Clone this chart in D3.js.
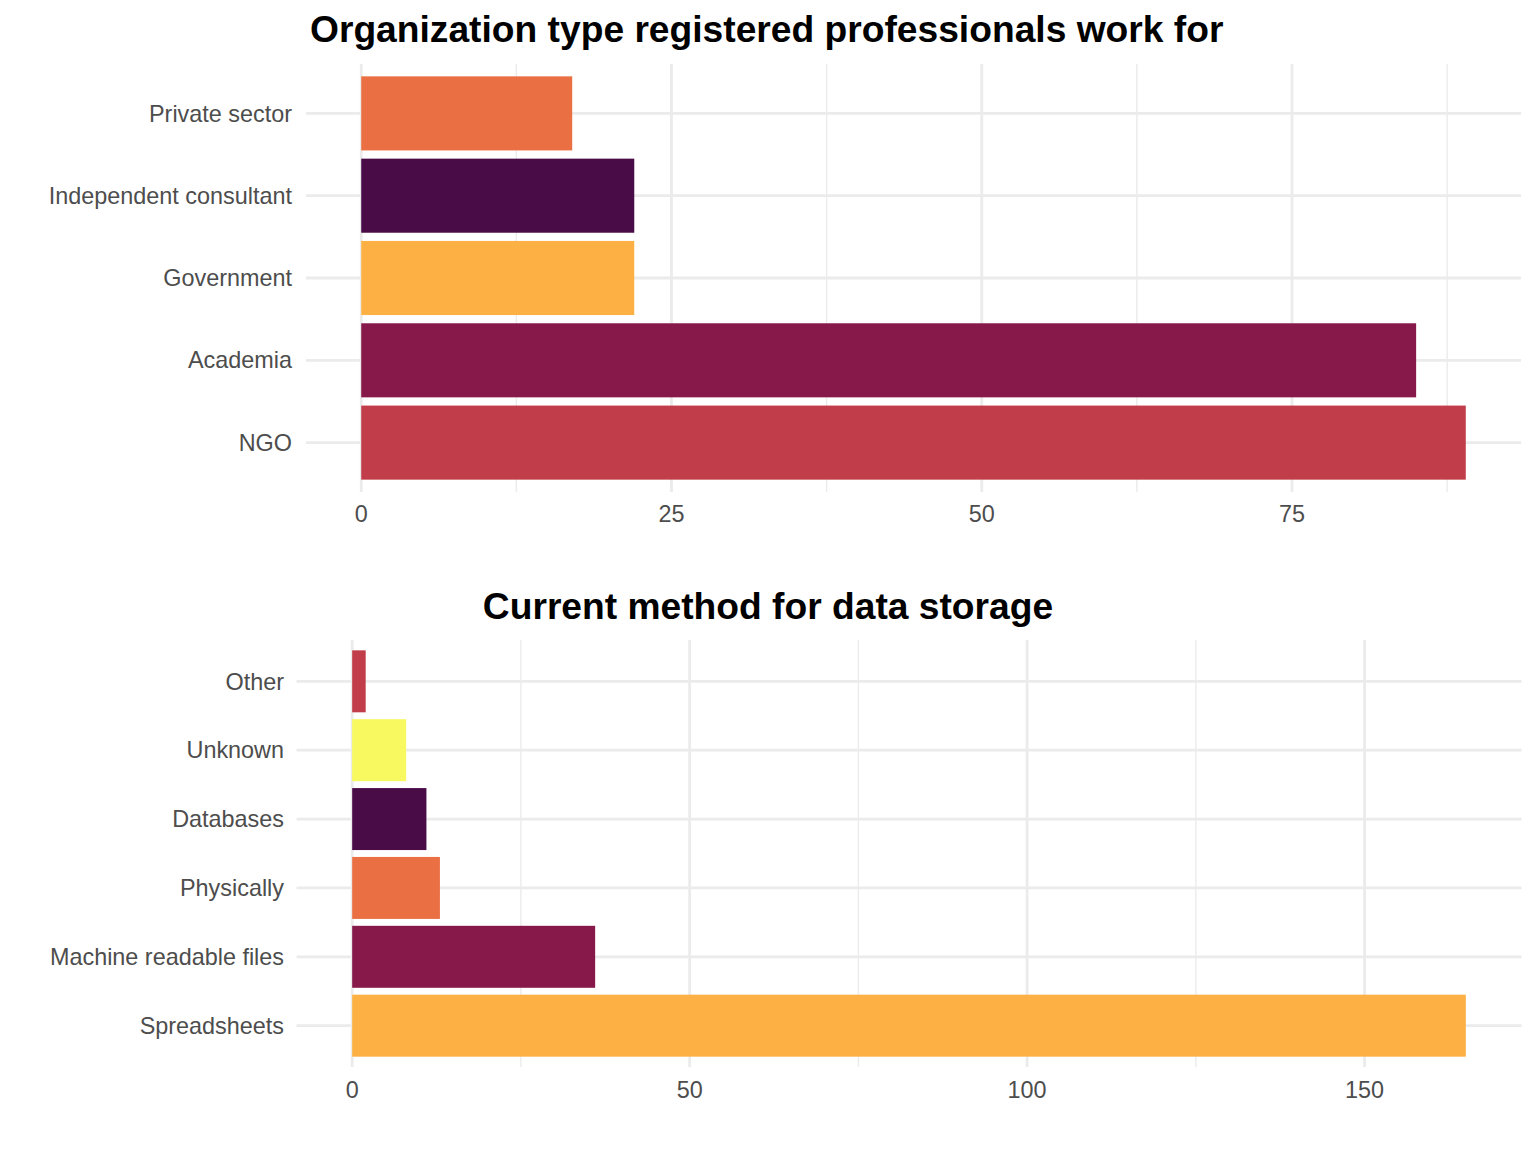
<!DOCTYPE html>
<html><head><meta charset="utf-8">
<script src="https://cdn.jsdelivr.net/npm/d3@7"></script>
<style>body{margin:0;background:#fff}svg{display:block;font-family:"Liberation Sans",Arial,sans-serif}</style>
</head><body>
<svg id="c" width="1536" height="1152"></svg>
<script>
// ---- data ----
const orgCategories = ["Private sector","Independent consultant","Government","Academia","NGO"];
const orgValues = [17, 22, 22, 85, 89];
const orgColors = ["#EA7044","#4A0C47","#FDB144","#87194A","#C03D49"];
const orgTicks = [0, 25, 50, 75];
const orgMinorTicks = [12.5, 37.5, 62.5, 87.5];

const storCategories = ["Other","Unknown","Databases","Physically","Machine readable files","Spreadsheets"];
const storValues = [2, 8, 11, 13, 36, 165];
const storColors = ["#C03D49","#F8F860","#4A0C47","#EA7044","#87194A","#FDB144"];
const storTicks = [0, 50, 100, 150];
const storMinorTicks = [25, 75, 125];

const titles = ["Organization type registered professionals work for","Current method for data storage"];

const svg = d3.select("#c");
const grid = "#EBEBEB", txt = "#4D4D4D";

function panel(cfg){
  const maxV = d3.max(cfg.values);
  const pad = maxV*0.05;
  const x = d3.scaleLinear().domain([-pad, maxV+pad]).range([cfg.left, cfg.right]);
  const y = d3.scaleBand().domain(cfg.cats).range([cfg.top, cfg.bottom]).paddingInner(0.1).paddingOuter(0.15);
  const g = svg.append("g");
  g.selectAll(".mn").data(cfg.minor).enter().append("line")
    .attr("x1",d=>x(d)).attr("x2",d=>x(d)).attr("y1",cfg.top).attr("y2",cfg.bottom)
    .attr("stroke",grid).attr("stroke-width",1.4);
  g.selectAll(".mj").data(cfg.ticks).enter().append("line")
    .attr("x1",d=>x(d)).attr("x2",d=>x(d)).attr("y1",cfg.top).attr("y2",cfg.bottom)
    .attr("stroke",grid).attr("stroke-width",2.8);
  g.selectAll(".hg").data(cfg.cats).enter().append("line")
    .attr("x1",cfg.left).attr("x2",cfg.right)
    .attr("y1",d=>y(d)+y.bandwidth()/2).attr("y2",d=>y(d)+y.bandwidth()/2)
    .attr("stroke",grid).attr("stroke-width",2.8);
  g.selectAll(".bar").data(cfg.cats).enter().append("rect")
    .attr("x",x(0)).attr("y",d=>y(d))
    .attr("width",(d,i)=>x(cfg.values[i])-x(0)).attr("height",y.bandwidth())
    .attr("fill",(d,i)=>cfg.colors[i]);
  g.selectAll(".yl").data(cfg.cats).enter().append("text")
    .attr("x",cfg.left-cfg.labGap).attr("y",d=>y(d)+y.bandwidth()/2).attr("dy","0.35em")
    .attr("text-anchor","end").attr("font-size",cfg.fs).attr("fill",txt).text(d=>d);
  g.selectAll(".xl").data(cfg.ticks).enter().append("text")
    .attr("x",d=>x(d)).attr("y",cfg.tickY).attr("text-anchor","middle")
    .attr("font-size",cfg.fs).attr("fill",txt).text(d=>d);
  g.append("text").attr("x",cfg.titleX).attr("y",cfg.titleY).attr("text-anchor",cfg.titleAnchor)
    .attr("font-size",cfg.tfs).attr("font-weight","bold").attr("fill","#000").text(cfg.title);
}

panel({cats:orgCategories, values:orgValues, colors:orgColors, ticks:orgTicks, minor:orgMinorTicks,
  left:306, right:1521, top:64, bottom:492, tickY:522, fs:23.4, tfs:37.2, labGap:14,
  title:titles[0], titleX:310, titleY:42, titleAnchor:"start"});
panel({cats:storCategories, values:storValues, colors:storColors, ticks:storTicks, minor:storMinorTicks,
  left:296.5, right:1521.5, top:640, bottom:1067, tickY:1098, fs:23.4, tfs:37.2, labGap:12.5,
  title:titles[1], titleX:768, titleY:619, titleAnchor:"middle"});
</script>
</body></html>
